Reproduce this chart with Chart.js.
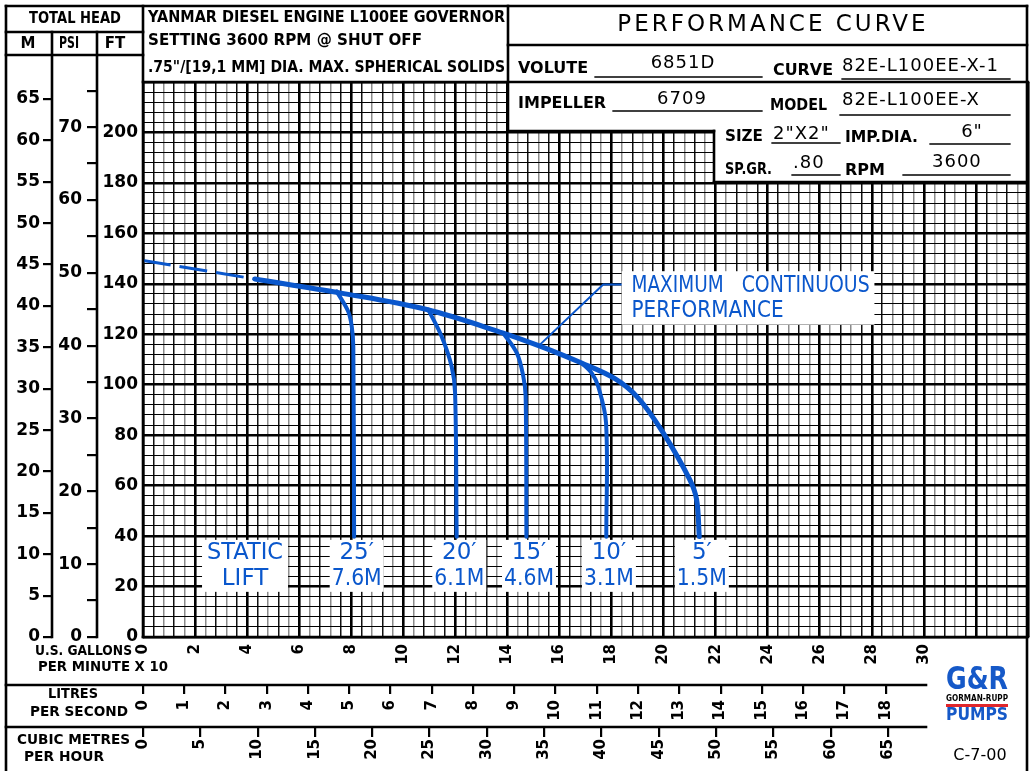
<!DOCTYPE html>
<html><head><meta charset="utf-8">
<script src="https://cdn.jsdelivr.net/npm/chart.js@4/dist/chart.umd.min.js"></script>
<style>html,body{margin:0;padding:0;background:#fff;}canvas{display:block;}</style>
</head><body>
<canvas id="c" width="1032" height="771"></canvas>
<script>
// ---------- data ----------
// x = U.S. gallons per minute x 10, y = total head in feet
const dashQ  = [0, 4.3];
const dashFt = [149.3, 141.9];
const mainQ  = [4.3, 7.57, 10.9, 13.84, 15.25, 16.85, 18.13, 19.02, 19.98, 21.01, 21.27, 21.37];
const mainFt = [141.9, 136.4, 129.8, 120.5, 115.3, 108.6, 102.4, 94.8, 81.0, 62.3, 54.4, 39.8];
const lift25Q  = [7.44, 7.88, 8.02, 8.08, 8.11];
const lift25Ft = [137.0, 129.1, 123.1, 115.0, 39.7];
const lift20Q  = [10.96, 11.47, 11.86, 11.99, 12.05];
const lift20Ft = [129.8, 119.2, 107.1, 96.7, 39.7];
const lift15Q  = [13.84, 14.36, 14.61, 14.70, 14.73];
const lift15Ft = [120.5, 112.6, 103.3, 95.4, 39.7];
const lift10Q  = [16.85, 17.24, 17.49, 17.79, 17.80];
const lift10Ft = [108.6, 104.6, 99.3, 84.8, 39.7];
const leaderQ  = [15.25, 17.68, 18.39];
const leaderFt = [115.9, 139.7, 139.7];

const liftNames  = ['25′', '20′', '15′', '10′', '5′'];
const liftMetres = ['7.6M', '6.1M', '4.6M', '3.1M', '1.5M'];

// tick labels
const gpmTicks = [0,2,4,6,8,10,12,14,16,18,20,22,24,26,28,30];
const lpsTicks = [0,1,2,3,4,5,6,7,8,9,10,11,12,13,14,15,16,17,18];
const m3hTicks = [0,5,10,15,20,25,30,35,40,45,50,55,60,65];
const ftTicks  = [0,20,40,60,80,100,120,140,160,180,200];
const psiTicks = [0,5,10,15,20,25,30,35,40,45,50,55,60,65,70,75];
const psiLabels = [0,10,20,30,40,50,60,70];
const mTicks   = [0,5,10,15,20,25,30,35,40,45,50,55,60,65];

// ---------- scale constants ----------
const Q_MAX = 34, FT_MAX = 220;
const M_MAX = FT_MAX * 0.3048;
const PSI_MAX = FT_MAX * 0.80 / 2.31;
const LPS_MAX = Q_MAX * 10 * 0.0630902;
const M3H_MAX = Q_MAX * 10 * 0.2271247;

const gridQ = []; for (let i = 0; i <= 85; i++) gridQ.push(Math.round(i * 4) / 10);
const gridFt = []; for (let i = 0; i <= 55; i++) gridFt.push(i * 4);

const BLUE = '#0a57cc';
const SANS = 'DejaVu Sans';
const pts = (xs, ys) => xs.map((x, i) => ({x, y: ys[i]}));
const fixTicks = arr => s => { s.ticks = arr.map(v => ({value: v})); };

const axFont = {family: SANS, size: 17, weight: 'bold'};
const botFont = {family: SANS, size: 15, weight: 'bold'};

function T(ctx, s, x, y, size, o = {}) {
  ctx.save();
  ctx.font = `${o.weight || 'bold'} ${size}px "${SANS}"`;
  ctx.fillStyle = o.color || '#000';
  ctx.textAlign = o.align || 'left';
  ctx.textBaseline = 'middle';
  if (o.ls) ctx.letterSpacing = o.ls;
  if (o.maxW) ctx.fillText(s, x, y, o.maxW); else ctx.fillText(s, x, y);
  ctx.restore();
}
function L(ctx, x1, y1, x2, y2, w = 2.6, c = '#000') {
  ctx.save(); ctx.beginPath(); ctx.moveTo(x1, y1); ctx.lineTo(x2, y2);
  ctx.lineWidth = w; ctx.strokeStyle = c; ctx.lineCap = 'square'; ctx.stroke(); ctx.restore();
}

const decor = {
  id: 'decor',
  afterDraw(chart) {
    const ctx = chart.ctx, ca = chart.chartArea;
    const X = v => chart.scales.x.getPixelForValue(v);
    const Y = v => chart.scales.y.getPixelForValue(v);
    // white header boxes over the grid
    ctx.save(); ctx.fillStyle = '#fff';
    ctx.fillRect(0, 0, 1032, ca.top - 1);
    ctx.fillRect(508, 0, 520, 131);
    ctx.fillRect(714, 131, 314, 51);
    ctx.restore();

    // frame lines
    L(ctx, 6, 6, 1027, 6);
    L(ctx, 6, 6, 6, 771);
    L(ctx, 1027, 6, 1027, 771);
    L(ctx, 6, 32, ca.left, 32);
    L(ctx, 6, 55, ca.left, 55);
    L(ctx, 52, 32, 52, ca.bottom);
    L(ctx, 97, 32, 97, ca.bottom);
    L(ctx, ca.left, 6, ca.left, ca.bottom);
    L(ctx, ca.left, ca.top, ca.right, ca.top);
    L(ctx, ca.left, ca.bottom, ca.right, ca.bottom);
    L(ctx, 508, 6, 508, 131);
    L(ctx, 508, 45, 1027, 45);
    L(ctx, 508, 131, 714, 131);
    L(ctx, 714, 131, 714, 182);
    L(ctx, 714, 182, 1027, 182);
    L(ctx, 6, 685, 926, 685);
    L(ctx, 6, 727, 926, 727);

    // left header
    T(ctx, 'TOTAL HEAD', 75, 19, 15, {align: 'center', maxW: 92});
    T(ctx, 'M', 28, 44, 15, {align: 'center'});
    T(ctx, 'PSI', 69, 44, 15, {align: 'center', maxW: 20});
    T(ctx, 'FT', 115, 44, 15, {align: 'center'});
    // engine note
    T(ctx, 'YANMAR DIESEL ENGINE L100EE GOVERNOR', 148, 18, 16, {maxW: 357});
    T(ctx, 'SETTING 3600 RPM @ SHUT OFF', 148, 41, 16, {maxW: 274});
    T(ctx, '.75"/[19,1 MM] DIA. MAX. SPHERICAL SOLIDS', 148, 68, 16, {maxW: 357});
    // title block
    T(ctx, 'PERFORMANCE CURVE', 773, 25, 23, {align: 'center', weight: 'normal', ls: '3px', maxW: 312});
    const fld = (lab, lx, ly, lw, val, vx, vy, vw, ux1, ux2, uy, center) => {
      T(ctx, lab, lx, ly, 16, {maxW: lw});
      T(ctx, val, vx, vy, 18, {weight: 'normal', maxW: vw, align: center ? 'center' : 'left', ls: '1px'});
      L(ctx, ux1, uy, ux2, uy, 1.3);
    };
    fld('VOLUTE', 518, 69, 72, '6851D', 683, 63, 70, 595, 762, 77, true);
    fld('CURVE', 773, 71, 60, '82E-L100EE-X-1', 842, 66, 170, 842, 1010, 79, false);
    fld('IMPELLER', 518, 104, 89, '6709', 682, 99, 60, 613, 762, 111, true);
    fld('MODEL', 770, 106, 57, '82E-L100EE-X', 842, 100, 156, 840, 1010, 115, false);
    fld('SIZE', 725, 137, 38, '2"X2"', 773, 134, 64, 772, 840, 143, false);
    fld('IMP.DIA.', 845, 138, 73, '6"', 972, 132, 30, 930, 1010, 144, true);
    fld('SP.GR.', 725, 170, 47, '.80', 793, 163, 37, 792, 840, 175, false);
    fld('RPM', 845, 171, 40, '3600', 932, 162, 50, 903, 1010, 175, false);

    // bottom axis titles
    T(ctx, 'U.S. GALLONS', 35, 651, 14, {maxW: 97});
    T(ctx, 'PER MINUTE X 10', 38, 667, 14, {maxW: 130});
    T(ctx, 'LITRES', 48, 694, 14, {maxW: 50});
    T(ctx, 'PER SECOND', 30, 712, 14, {maxW: 98});
    T(ctx, 'CUBIC METRES', 17, 740, 14, {maxW: 113});
    T(ctx, 'PER HOUR', 24, 757, 14, {maxW: 80});

    // logo
    T(ctx, 'G&R', 977, 681, 32, {align: 'center', weight: '900', color: '#1659c8', maxW: 62});
    T(ctx, 'GORMAN-RUPP', 977, 699, 8, {align: 'center', maxW: 62});
    ctx.save(); ctx.fillStyle = '#e0262b'; ctx.fillRect(946, 704, 62, 3); ctx.restore();
    T(ctx, 'PUMPS', 977, 715, 18, {align: 'center', weight: '900', color: '#1659c8', maxW: 62});
    T(ctx, 'C-7-00', 980, 756, 16, {align: 'center', weight: 'normal', maxW: 56});

    // static lift labels
    const box = (cx, w) => { ctx.save(); ctx.fillStyle = '#fff'; ctx.fillRect(cx - w / 2, Y(38.5), w, Y(17.9) - Y(38.5)); ctx.restore(); };
    const sx = X(3.92);
    box(sx, 86);
    T(ctx, 'STATIC', sx, Y(33.3), 23, {align: 'center', weight: 'normal', color: BLUE, maxW: 76});
    T(ctx, 'LIFT', sx, Y(23), 23, {align: 'center', weight: 'normal', color: BLUE, maxW: 48});
    const ends = [lift25Q[lift25Q.length - 1], lift20Q[lift20Q.length - 1], lift15Q[lift15Q.length - 1],
                  lift10Q[lift10Q.length - 1], mainQ[mainQ.length - 1]];
    ends.forEach((q, i) => {
      const cx = X(q + 0.1);
      box(cx, 54);
      T(ctx, liftNames[i], cx, Y(33.3), 23, {align: 'center', weight: 'normal', color: BLUE, maxW: 36});
      T(ctx, liftMetres[i], cx, Y(23), 23, {align: 'center', weight: 'normal', color: BLUE, maxW: 50});
    });

    // maximum continuous performance note
    ctx.save(); ctx.fillStyle = '#fff';
    ctx.fillRect(X(18.39), Y(145), X(28.1) - X(18.39), Y(123.8) - Y(145)); ctx.restore();
    T(ctx, 'MAXIMUM', X(18.77), Y(139.2), 23, {weight: 'normal', color: BLUE, maxW: 92});
    T(ctx, 'CONTINUOUS', X(23.0), Y(139.2), 23, {weight: 'normal', color: BLUE, maxW: 128});
    T(ctx, 'PERFORMANCE', X(18.77), Y(129.2), 23, {weight: 'normal', color: BLUE, maxW: 152});
  }
};

const curve = (data, w, extra = {}) => Object.assign({
  data, xAxisID: 'x', yAxisID: 'y', borderColor: BLUE, borderWidth: w, pointRadius: 0,
  fill: false, tension: 0.35, borderCapStyle: 'round', borderJoinStyle: 'round'
}, extra);

new Chart(document.getElementById('c'), {
  type: 'line',
  data: {
    datasets: [
      curve(pts(dashQ, dashFt), 3, {borderDash: [28, 9], borderCapStyle: 'butt', tension: 0}),
      curve(pts(lift25Q, lift25Ft), 4),
      curve(pts(lift20Q, lift20Ft), 4),
      curve(pts(lift15Q, lift15Ft), 4),
      curve(pts(lift10Q, lift10Ft), 4),
      curve(pts(leaderQ, leaderFt), 2, {tension: 0}),
      curve(pts(mainQ, mainFt), 5)
    ]
  },
  options: {
    responsive: false,
    animation: false,
    events: [],
    layout: {padding: {left: 6, right: 4, top: 82, bottom: 0}},
    plugins: {legend: {display: false}, tooltip: {enabled: false}},
    scales: {
      xg: {
        type: 'linear', position: 'bottom', weight: -1, min: 0, max: Q_MAX,
        afterBuildTicks: fixTicks(gridQ),
        ticks: {display: false}, border: {display: false},
        grid: {drawTicks: false,
          color: c => (c.index % 5 === 0) ? '#000' : (c.index % 2 ? '#111' : '#8a8a8a'),
          lineWidth: c => (c.index % 5 === 0) ? 2.6 : 1.5},
        afterFit: s => { s.height = 0; }
      },
      yg: {
        type: 'linear', position: 'left', weight: -1, min: 0, max: FT_MAX,
        afterBuildTicks: fixTicks(gridFt),
        ticks: {display: false}, border: {display: false},
        grid: {drawTicks: false, color: '#000', lineWidth: c => (c.index % 5 === 0) ? 2.6 : 1.1},
        afterFit: s => { s.width = 0; }
      },
      x: {
        type: 'linear', position: 'bottom', weight: 0, min: 0, max: Q_MAX,
        afterBuildTicks: fixTicks(gpmTicks),
        grid: {display: false, drawTicks: false, drawOnChartArea: false}, border: {display: false},
        ticks: {autoSkip: false, minRotation: 90, maxRotation: 90, padding: 7, font: botFont, color: '#000'},
        afterFit: s => { s.height = 48; }
      },
      xl: {
        type: 'linear', position: 'bottom', weight: 1, min: 0, max: LPS_MAX,
        afterBuildTicks: fixTicks(lpsTicks),
        grid: {drawOnChartArea: false, drawTicks: true, tickLength: 9, color: '#000', lineWidth: 2.2},
        border: {display: false},
        ticks: {autoSkip: false, minRotation: 90, maxRotation: 90, padding: 6, font: botFont, color: '#000'},
        afterFit: s => { s.height = 42; }
      },
      xm: {
        type: 'linear', position: 'bottom', weight: 2, min: 0, max: M3H_MAX,
        afterBuildTicks: fixTicks(m3hTicks),
        grid: {drawOnChartArea: false, drawTicks: true, tickLength: 10, color: '#000', lineWidth: 2.2},
        border: {display: false},
        ticks: {autoSkip: false, minRotation: 90, maxRotation: 90, padding: 2, font: botFont, color: '#000'},
        afterFit: s => { s.height = 44; }
      },
      y: {
        type: 'linear', position: 'left', weight: 0, min: 0, max: FT_MAX,
        afterBuildTicks: fixTicks(ftTicks),
        grid: {drawOnChartArea: false, drawTicks: false}, border: {display: false},
        ticks: {padding: 5, font: axFont, color: '#000'},
        afterFit: s => { s.width = 46; }
      },
      yp: {
        type: 'linear', position: 'left', weight: 1, min: 0, max: PSI_MAX,
        afterBuildTicks: fixTicks(psiTicks),
        grid: {drawOnChartArea: false, drawTicks: true, tickLength: 10, color: '#000', lineWidth: 2.2},
        border: {display: false},
        ticks: {padding: 5, font: axFont, color: '#000', callback: v => psiLabels.includes(v) ? String(v) : ''},
        afterFit: s => { s.width = 45; }
      },
      ym: {
        type: 'linear', position: 'left', weight: 2, min: 0, max: M_MAX,
        afterBuildTicks: fixTicks(mTicks),
        grid: {drawOnChartArea: false, drawTicks: true, tickLength: 9, color: '#000', lineWidth: 2.2},
        border: {display: false},
        ticks: {padding: 3, font: axFont, color: '#000'},
        afterFit: s => { s.width = 46; }
      }
    }
  },
  plugins: [decor]
});
</script>
</body></html>
